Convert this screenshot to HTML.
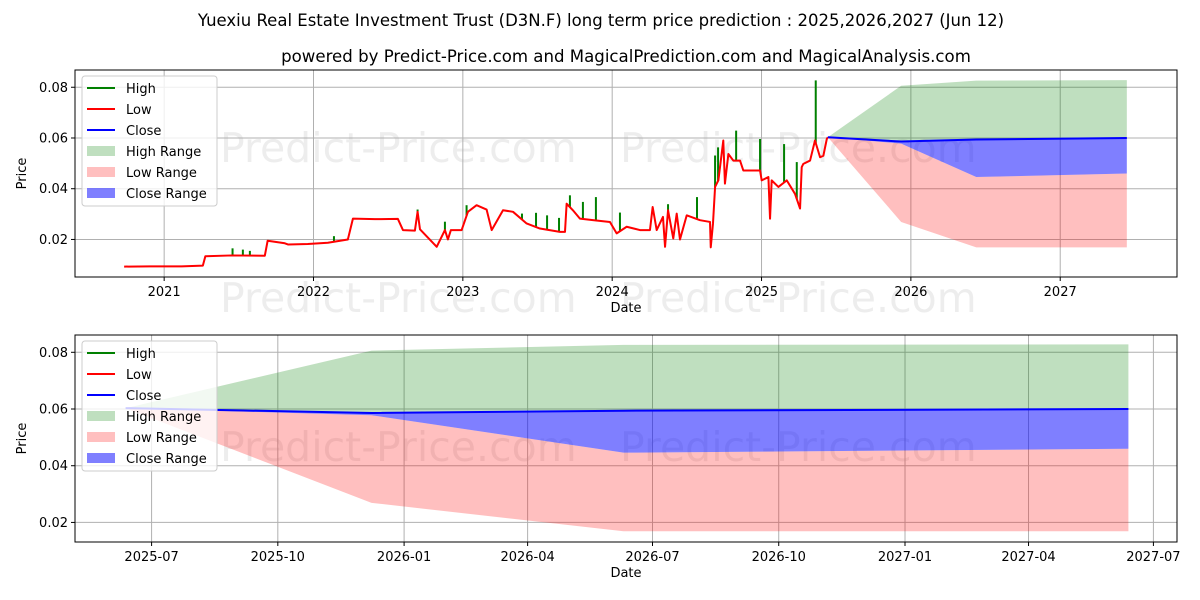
<!DOCTYPE html>
<html><head><meta charset="utf-8"><style>
html,body{margin:0;padding:0;background:#fff;}
svg{display:block;font-family:"DejaVu Sans","Liberation Sans",sans-serif;}
</style></head><body>
<svg id="chart" width="1200" height="600" viewBox="0 0 1200 600" xmlns="http://www.w3.org/2000/svg">
<rect width="1200" height="600" fill="#fff"/>
<text x="601" y="26" font-size="16.5" text-anchor="middle">Yuexiu Real Estate Investment Trust (D3N.F) long term price prediction : 2025,2026,2027 (Jun 12)</text>
<text x="626" y="62" font-size="16.6" text-anchor="middle">powered by Predict-Price.com and MagicalPrediction.com and MagicalAnalysis.com</text>
<g font-size="41" fill="#000" fill-opacity="0.07">
<text x="220" y="162">Predict-Price.com</text><text x="620" y="162">Predict-Price.com</text>
<text x="220" y="312">Predict-Price.com</text><text x="620" y="312">Predict-Price.com</text>
<text x="220" y="461">Predict-Price.com</text><text x="620" y="461">Predict-Price.com</text>
</g>
<g id="top"></g>
<g id="bot"></g>
</svg>
<script>
const lowDates=[2020.732,2020.904,2021.117,2021.259,2021.276,2021.451,2021.674,2021.693,2021.808,2021.831,2021.962,2022.096,2022.230,2022.264,2022.411,2022.565,2022.599,2022.679,2022.697,2022.713,2022.825,2022.880,2022.900,2022.920,2022.992,2023.034,2023.092,2023.159,2023.193,2023.269,2023.336,2023.427,2023.516,2023.650,2023.684,2023.695,2023.737,2023.784,2023.871,2023.985,2024.030,2024.097,2024.186,2024.253,2024.271,2024.298,2024.340,2024.354,2024.374,2024.409,2024.432,2024.454,2024.499,2024.588,2024.655,2024.660,2024.675,2024.689,2024.711,2024.744,2024.755,2024.778,2024.811,2024.856,2024.878,2024.990,2025.001,2025.046,2025.057,2025.068,2025.113,2025.169,2025.224,2025.258,2025.269,2025.280,2025.325,2025.358,2025.392,2025.414,2025.437,2025.444];
const lowValues=[0.0093,0.0094,0.0094,0.0097,0.0134,0.0137,0.0136,0.0195,0.0185,0.0180,0.0182,0.0187,0.0200,0.0282,0.0280,0.0281,0.0237,0.0235,0.0309,0.0240,0.0171,0.0237,0.0200,0.0237,0.0237,0.0309,0.0335,0.0318,0.0237,0.0315,0.0309,0.0263,0.0243,0.0230,0.0230,0.0341,0.0315,0.0282,0.0276,0.0269,0.0224,0.0250,0.0237,0.0237,0.0328,0.0237,0.0289,0.0171,0.0315,0.0204,0.0302,0.0200,0.0295,0.0276,0.0269,0.0169,0.0263,0.0407,0.0433,0.0590,0.0420,0.0537,0.0511,0.0511,0.0472,0.0472,0.0433,0.0446,0.0282,0.0433,0.0407,0.0433,0.0380,0.0322,0.0485,0.0498,0.0511,0.0590,0.0524,0.0530,0.0596,0.0603];
const spikeDates=[2021.458,2021.527,2021.574,2022.137,2022.697,2022.880,2023.025,2023.396,2023.490,2023.564,2023.644,2023.717,2023.804,2023.891,2024.052,2024.374,2024.568,2024.689,2024.709,2024.830,2024.990,2025.151,2025.236,2025.363];
const spikeHighs=[0.0165,0.0160,0.0155,0.0213,0.0318,0.0270,0.0335,0.0302,0.0305,0.0295,0.0285,0.0374,0.0348,0.0367,0.0306,0.0339,0.0367,0.0531,0.0563,0.0629,0.0596,0.0576,0.0505,0.0827];
const predDates=[2025.444,2025.935,2026.438,2027.446];
const predHighUpper=[0.0603,0.0806,0.0826,0.0828];
const predLowLower=[0.0603,0.0269,0.0169,0.0169];
const predClose=[0.0603,0.0586,0.0594,0.0600];
const predCloseLower=[0.0603,0.0578,0.0446,0.0460];
const topYearTicks=[2021,2022,2023,2024,2025,2026,2027];
const priceTicks=[0.02,0.04,0.06,0.08];
const botTickLabels=["2025-07","2025-10","2026-01","2026-04","2026-07","2026-10","2027-01","2027-04","2027-07"];
const botTickDates=[2025.4959,2025.7479,2026.0,2026.2466,2026.4959,2026.7479,2027.0,2027.2466,2027.4959];

const NS="http://www.w3.org/2000/svg";
function mk(parent,tag,attrs,text){const e=document.createElementNS(NS,tag);for(const k in attrs)e.setAttribute(k,attrs[k]);if(text!==undefined)e.textContent=text;parent.appendChild(e);return e;}
function interp(xs,ys,x){if(x<=xs[0])return ys[0];for(let i=1;i<xs.length;i++){if(x<=xs[i]){const t=(x-xs[i-1])/(xs[i]-xs[i-1]);return ys[i-1]+t*(ys[i]-ys[i-1]);}}return ys[ys.length-1];}

function drawPlot(g,cfg){
  const {L,R,T,B,x0,x1,y0,y1}=cfg;
  const X=v=>L+(v-x0)/(x1-x0)*(R-L);
  const Y=v=>B-(v-y0)/(y1-y0)*(B-T);
  const clipId=cfg.id+"clip";
  const defs=mk(g,"defs",{});const cp=mk(defs,"clipPath",{id:clipId});mk(cp,"rect",{x:L,y:T,width:R-L,height:B-T});
  cfg.xt.forEach((d,i)=>{
    const gl=mk(g,"line",{x1:X(d),x2:X(d),y1:T,y2:B,stroke:"#b0b0b0","stroke-width":1});
    
    
    mk(g,"line",{x1:X(d),x2:X(d),y1:B,y2:B+4,stroke:"#000","stroke-width":1});
    const t=mk(g,"text",{x:X(d),y:B+19,"font-size":13,"text-anchor":"middle"},cfg.xl[i]);
    
    
  });
  priceTicks.forEach(v=>{
    const gl=mk(g,"line",{x1:L,x2:R,y1:Y(v),y2:Y(v),stroke:"#b0b0b0","stroke-width":1});
    
    
    mk(g,"line",{x1:L-4,x2:L,y1:Y(v),y2:Y(v),stroke:"#000","stroke-width":1});
    const t=mk(g,"text",{x:L-7,y:Y(v)+4.5,"font-size":13,"text-anchor":"end"},v.toFixed(2));
    
    
  });
  const pg=mk(g,"g",{"clip-path":"url(#"+clipId+")"});
  const poly=(xs,a,b)=>{let p=xs.map((d,i)=>X(d)+","+Y(a[i]));for(let i=xs.length-1;i>=0;i--)p.push(X(xs[i])+","+Y(b[i]));return p.join(" ");};
  const hr=mk(pg,"polygon",{points:poly(predDates,predHighUpper,predClose),fill:"#008000","fill-opacity":0.25});
  
  
  const lr=mk(pg,"polygon",{points:poly(predDates,predCloseLower,predLowLower),fill:"#ff0000","fill-opacity":0.25});
  
  
  const cr=mk(pg,"polygon",{points:poly(predDates,predClose,predCloseLower),fill:"#0000ff","fill-opacity":0.5});
  
  
  if(cfg.history){
    spikeDates.forEach((d,i)=>{
      const s=mk(pg,"line",{x1:X(d),x2:X(d),y1:Y(interp(lowDates,lowValues,d)),y2:Y(spikeHighs[i]),stroke:"#008000","stroke-width":2});
      
      
    });
    const lp=mk(pg,"polyline",{points:lowDates.map((d,i)=>X(d)+","+Y(lowValues[i])).join(" "),fill:"none",stroke:"#ff0000","stroke-width":2,"stroke-linejoin":"round"});
    
    
  }
  const cl=mk(pg,"polyline",{points:predDates.map((d,i)=>X(d)+","+Y(predClose[i])).join(" "),fill:"none",stroke:"#0000ff","stroke-width":2});
  
  
  const fr=mk(g,"rect",{x:L,y:T,width:R-L,height:B-T,fill:"none",stroke:"#000","stroke-width":1});
  
  
  const xl=mk(g,"text",{x:(L+R)/2,y:B+35,"font-size":13,"text-anchor":"middle"},"Date");
  
  
  const yl=mk(g,"text",{x:0,y:0,"font-size":13,"text-anchor":"middle",transform:"translate(26,"+(T+B)/2+") rotate(-90)"},"Price");
  
  
  const lg=mk(g,"g",{});
  
  
  const lx=L+7,ly=T+6;
  mk(lg,"rect",{x:lx,y:ly,width:135,height:130,rx:3,fill:"#fff","fill-opacity":0.8,stroke:"#ccc"});
  const items=[["High","line","#008000"],["Low","line","#ff0000"],["Close","line","#0000ff"],["High Range","patch","rgba(0,128,0,0.25)"],["Low Range","patch","rgba(255,0,0,0.25)"],["Close Range","patch","rgba(0,0,255,0.5)"]];
  items.forEach((it,i)=>{
    const cy=ly+12+i*21;
    if(it[1]==="line")mk(lg,"line",{x1:lx+5,x2:lx+33,y1:cy,y2:cy,stroke:it[2],"stroke-width":2});
    else mk(lg,"rect",{x:lx+5,y:cy-5,width:28,height:10,fill:it[2]});
    const t=mk(lg,"text",{x:lx+44,y:cy+5,"font-size":13},it[0]);
    
    
  });
}
drawPlot(document.getElementById("top"),{id:"t",history:true,L:75,R:1177,T:70,B:277,x0:2020.403,x1:2027.782,y0:0.0052,y1:0.0868,xt:topYearTicks,xl:topYearTicks.map(String)});
drawPlot(document.getElementById("bot"),{id:"b",history:false,L:75,R:1177,T:335,B:542,x0:2025.343,x1:2027.543,y0:0.0131,y1:0.0861,xt:botTickDates,xl:botTickLabels});
</script>
</body></html>
